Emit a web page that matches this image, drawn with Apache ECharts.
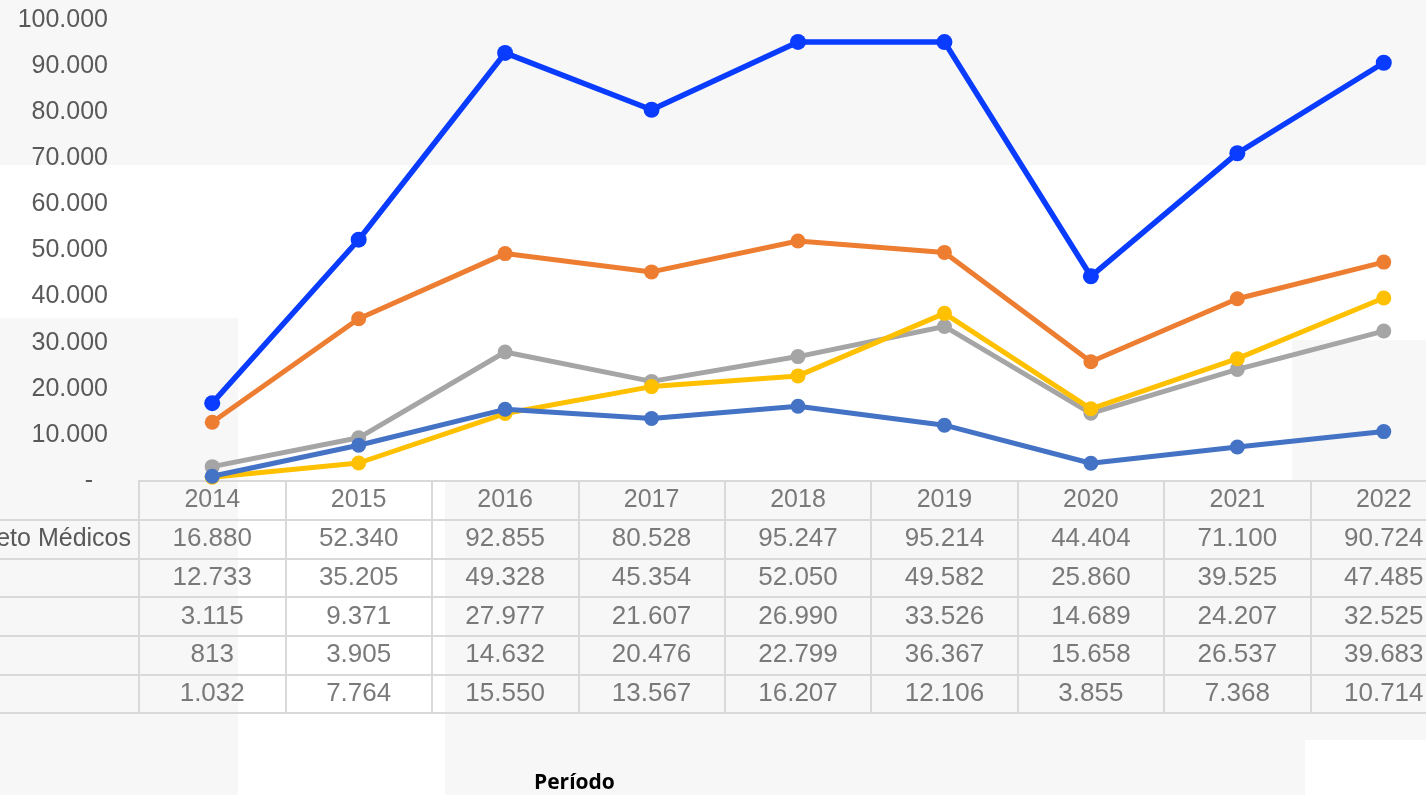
<!DOCTYPE html>
<html>
<head>
<meta charset="utf-8">
<script src="https://cdn.jsdelivr.net/npm/echarts@6/dist/echarts.min.js"></script>
<style>
  * { margin: 0; padding: 0; }
  html, body { width: 1426px; height: 795px; background: #f7f7f7; overflow: hidden; }
  #chart { width: 1426px; height: 795px; }
</style>
</head>
<body>
<div id="chart"></div>
<script>
// dados
const years = ['2014', '2015', '2016', '2017', '2018', '2019', '2020', '2021', '2022'];
const rowLabels = ['Projeto Médicos', '', '', '', ''];
const serie1 = [16880, 52340, 92855, 80528, 95247, 95214, 44404, 71100, 90724];
const serie2 = [12733, 35205, 49328, 45354, 52050, 49582, 25860, 39525, 47485];
const serie3 = [3115, 9371, 27977, 21607, 26990, 33526, 14689, 24207, 32525];
const serie4 = [813, 3905, 14632, 20476, 22799, 36367, 15658, 26537, 39683];
const serie5 = [1032, 7764, 15550, 13567, 16207, 12106, 3855, 7368, 10714];
const colors = ['#0a3cff', '#ed7d31', '#a5a5a5', '#ffc000', '#4472c4'];
const yMax = 100000;
const yStep = 10000;

const allSeries = [serie1, serie2, serie3, serie4, serie5];
const txt = '#595959';
const gridLine = '#d9d9d9';
const font = '"Liberation Sans", Arial, sans-serif';

function fmt(n) {
  if (n === 0) return '-';
  return String(n).replace(/\B(?=(\d{3})+(?!\d))/g, '.');
}

// celulas da tabela: linha 0 = anos, depois uma linha por serie
const cells = [];
years.forEach(function (y, i) { cells.push({ value: [i, 0, y], label: { fontSize: 25 } }); });
allSeries.forEach(function (s, r) {
  s.forEach(function (v, i) { cells.push([i, r + 1, fmt(v)]); });
});

const chart = echarts.init(document.getElementById('chart'));

chart.setOption({
  backgroundColor: 'transparent',
  animation: false,
  textStyle: { fontFamily: font },
  graphic: [
    // fundo irregular (branco sobre cinza)
    { type: 'rect', z: -10, shape: { x: 0, y: 165, width: 1292, height: 153 }, style: { fill: '#ffffff' } },
    { type: 'rect', z: -10, shape: { x: 238, y: 318, width: 207, height: 477 }, style: { fill: '#ffffff' } },
    { type: 'rect', z: -10, shape: { x: 445, y: 318, width: 847, height: 163 }, style: { fill: '#ffffff' } },
    { type: 'rect', z: -10, shape: { x: 1292, y: 165, width: 134, height: 175 }, style: { fill: '#ffffff' } },
    { type: 'rect', z: -10, shape: { x: 1305, y: 740, width: 121, height: 55 }, style: { fill: '#ffffff' } },
    {
      type: 'text', left: 534, top: 773,
      style: { text: 'Período', font: 'bold 21px "Open Sans", sans-serif', fill: '#000000' }
    }
  ],
  grid: [
    { left: 139, top: 20, width: 1318, height: 461, outerBoundsMode: 'none', containLabel: false },
    { left: 139, top: 481, width: 1318, height: 232, outerBoundsMode: 'none', containLabel: false }
  ],
  xAxis: [
    {
      type: 'category', gridIndex: 0, data: years, boundaryGap: true,
      axisLine: { show: true, lineStyle: { color: gridLine, width: 2 } },
      axisTick: { show: false }, axisLabel: { show: false }, splitLine: { show: false }
    },
    {
      type: 'category', gridIndex: 1, data: years, boundaryGap: true,
      axisLine: { show: true, lineStyle: { color: gridLine, width: 2 } },
      axisTick: { show: false }, axisLabel: { show: false },
      splitLine: { show: true, interval: 0, lineStyle: { color: gridLine, width: 2 } }
    }
  ],
  yAxis: [
    {
      type: 'value', gridIndex: 0, min: 0, max: yMax, interval: yStep,
      axisLine: { show: false }, axisTick: { show: false }, splitLine: { show: false },
      axisLabel: {
        margin: 31, fontSize: 25, color: txt, fontFamily: font,
        formatter: function (v) { return v === 0 ? '{d|-}' : fmt(v); },
        rich: { d: { fontSize: 25, color: txt, fontFamily: font, padding: [0, 15, 0, 0] } }
      }
    },
    {
      type: 'category', gridIndex: 1, inverse: true,
      data: ['h', 'r0', 'r1', 'r2', 'r3', 'r4'],
      axisLine: { show: true, lineStyle: { color: gridLine, width: 2 } },
      axisTick: {
        show: true, length: 139, inside: false,
        interval: function (i) { return i !== 0; },
        lineStyle: { color: gridLine, width: 2 }
      },
      axisLabel: {
        margin: 8, fontSize: 25, color: txt, fontFamily: font,
        formatter: function (v, i) { return i === 0 ? '' : rowLabels[i - 1]; }
      },
      splitLine: { show: true, interval: 0, lineStyle: { color: gridLine, width: 2 } }
    }
  ],
  series: allSeries.map(function (s, k) {
    return {
      name: 'serie' + (k + 1),
      type: 'line', xAxisIndex: 0, yAxisIndex: 0,
      data: s,
      clip: false,
      symbol: 'circle',
      symbolSize: k === 0 ? 16 : 15,
      lineStyle: { color: colors[k], width: k === 0 ? 5.5 : 5 },
      itemStyle: { color: colors[k] },
      silent: true,
      z: 2 + k
    };
  }).concat([{
    type: 'scatter', xAxisIndex: 1, yAxisIndex: 1,
    data: cells,
    symbolSize: 1,
    itemStyle: { color: 'transparent' },
    silent: true,
    label: {
      show: true, position: 'inside', fontSize: 26, color: txt, fontFamily: font,
      formatter: function (p) { return p.value[2]; }
    }
  }])
});
</script>
</body>
</html>
